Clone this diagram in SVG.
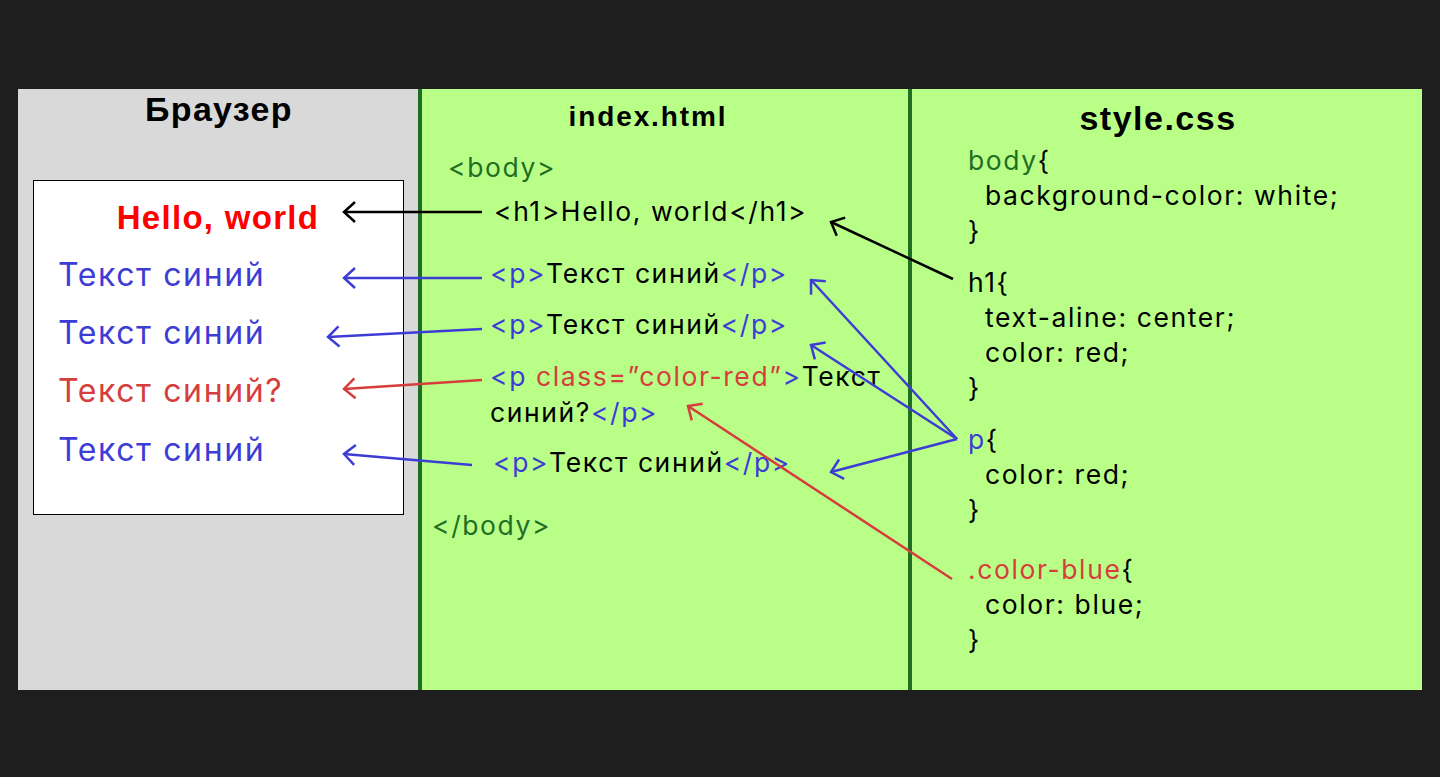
<svg xmlns="http://www.w3.org/2000/svg" width="1440" height="777" viewBox="0 0 1440 777">
<defs>
<style>
.code{font-family:Inter,"Noto Sans",sans-serif;font-size:26.5px;letter-spacing:1.6px;fill:#000}
.title{font-family:"Liberation Sans",Arial,sans-serif;font-weight:bold;fill:#000}
.out{font-family:Inter,"Noto Sans",sans-serif;font-size:32px;letter-spacing:1.6px}
.g{fill:#1f6e24}
.b{fill:#3d3dd6}
.r{fill:#d63d3d}
.k{fill:#000}
.ln{fill:none;stroke-width:2.5}
</style>
<marker id="ak" viewBox="0 0 16 24" refX="14" refY="12" markerWidth="16" markerHeight="24" markerUnits="userSpaceOnUse" orient="auto"><path d="M3 2 L14 12 L3 22" fill="none" stroke="#000" stroke-width="2.5"/></marker>
<marker id="ab" viewBox="0 0 16 24" refX="14" refY="12" markerWidth="16" markerHeight="24" markerUnits="userSpaceOnUse" orient="auto"><path d="M3 2 L14 12 L3 22" fill="none" stroke="#3d3dd6" stroke-width="2.5"/></marker>
<marker id="ar" viewBox="0 0 16 24" refX="14" refY="12" markerWidth="16" markerHeight="24" markerUnits="userSpaceOnUse" orient="auto"><path d="M3 2 L14 12 L3 22" fill="none" stroke="#d63d3d" stroke-width="2.5"/></marker>
</defs>
<rect x="0" y="0" width="1440" height="777" fill="#1e1e1e"/>

<g id="browser">
<rect x="18" y="89" width="401" height="601" fill="#d9d9d9"/>
<text class="title" x="219" y="121" font-size="34" letter-spacing="1.3" text-anchor="middle">Браузер</text>
<rect x="33.5" y="180.5" width="370" height="334" fill="#fff" stroke="#000" stroke-width="1"/>
<text x="218" y="229" font-family="'Liberation Sans',Arial,sans-serif" font-weight="bold" font-size="33" letter-spacing="1.3" fill="#ff0000" text-anchor="middle">Hello, world</text>
<text class="out b" x="58" y="286">Текст синий</text>
<text class="out b" x="58" y="344">Текст синий</text>
<text class="out r" x="58" y="402">Текст синий?</text>
<text class="out b" x="58" y="461">Текст синий</text>
</g>

<g id="html">
<rect x="419" y="89" width="491" height="601" fill="#b9ff87"/>
<rect x="418" y="89" width="4" height="601" fill="#1f6e24"/>
<text class="title" x="648" y="126" font-size="28" letter-spacing="1.9" text-anchor="middle">index.html</text>
<text class="code g" x="448" y="177">&lt;body&gt;</text>
<text class="code" x="494" y="221">&lt;h1&gt;Hello, world&lt;/h1&gt;</text>
<text class="code" x="490" y="283"><tspan class="b">&lt;p&gt;</tspan>Текст синий<tspan class="b">&lt;/p&gt;</tspan></text>
<text class="code" x="490" y="334"><tspan class="b">&lt;p&gt;</tspan>Текст синий<tspan class="b">&lt;/p&gt;</tspan></text>
<text class="code" x="490" y="386"><tspan class="b">&lt;p </tspan><tspan class="r">class=”color-red”</tspan><tspan class="b">&gt;</tspan>Текст</text>
<text class="code" x="490" y="422">синий?<tspan class="b">&lt;/p&gt;</tspan></text>
<text class="code" x="493" y="472"><tspan class="b">&lt;p&gt;</tspan>Текст синий<tspan class="b">&lt;/p&gt;</tspan></text>
<text class="code g" x="432" y="535">&lt;/body&gt;</text>
</g>

<g id="css">
<rect x="910" y="89" width="512" height="601" fill="#b9ff87"/>
<rect x="908" y="89" width="4" height="601" fill="#1f6e24"/>
<text class="title" x="1158" y="130" font-size="34" letter-spacing="1.5" text-anchor="middle">style.css</text>
<text class="code" x="968" y="170"><tspan class="g">body</tspan>{</text>
<text class="code" x="985" y="205">background-color: white;</text>
<text class="code" x="968" y="240">}</text>
<text class="code" x="968" y="292">h1{</text>
<text class="code" x="985" y="327">text-aline: center;</text>
<text class="code" x="985" y="362">color: red;</text>
<text class="code" x="968" y="397">}</text>
<text class="code" x="968" y="449"><tspan class="b">p</tspan>{</text>
<text class="code" x="985" y="484">color: red;</text>
<text class="code" x="968" y="519">}</text>
<text class="code" x="968" y="579"><tspan class="r">.color-blue</tspan>{</text>
<text class="code" x="985" y="614">color: blue;</text>
<text class="code" x="968" y="649">}</text>
</g>

<g id="connectors">
<line class="ln" x1="482" y1="212" x2="344" y2="212" stroke="#000" marker-end="url(#ak)"/>
<line class="ln" x1="953" y1="279" x2="831" y2="222" stroke="#000" marker-end="url(#ak)"/>
<line class="ln" x1="482" y1="278" x2="344" y2="278" stroke="#3d3dd6" marker-end="url(#ab)"/>
<line class="ln" x1="482" y1="329" x2="328" y2="337" stroke="#3d3dd6" marker-end="url(#ab)"/>
<line class="ln" x1="482" y1="380" x2="344" y2="389" stroke="#d63d3d" marker-end="url(#ar)"/>
<line class="ln" x1="472" y1="465" x2="344" y2="454" stroke="#3d3dd6" marker-end="url(#ab)"/>
<line class="ln" x1="957" y1="439" x2="811" y2="280" stroke="#3d3dd6" marker-end="url(#ab)"/>
<line class="ln" x1="957" y1="439" x2="811" y2="345" stroke="#3d3dd6" marker-end="url(#ab)"/>
<line class="ln" x1="957" y1="439" x2="831" y2="472" stroke="#3d3dd6" marker-end="url(#ab)"/>
<line class="ln" x1="952" y1="579" x2="688" y2="406" stroke="#d63d3d" marker-end="url(#ar)"/>
</g>
</svg>
